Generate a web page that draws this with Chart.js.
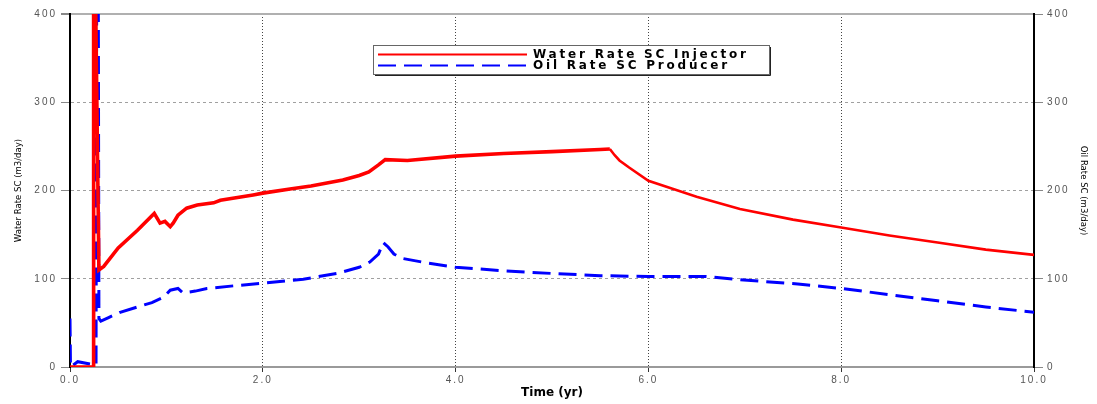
<!DOCTYPE html>
<html>
<head>
<meta charset="utf-8">
<script src="https://cdn.jsdelivr.net/npm/chart.js@4.4.1/dist/chart.umd.min.js"></script>
<style>
html, body { margin: 0; padding: 0; background: #fff; }
#chart-wrap { width: 1097px; height: 404px; }
</style>
</head>
<body>
<div id="chart-wrap"><canvas id="rate-chart"></canvas></div>
<script>
// water injection rate (m3/day) vs time (yr)
const waterTime = [0, 0.24, 0.245, 0.30, 0.35, 0.5, 0.7, 0.874, 0.934, 0.985, 1.04, 1.07, 1.12, 1.21, 1.32, 1.49, 1.56, 1.9, 2.0, 2.3, 2.5, 2.83, 3.0, 3.1, 3.2, 3.27, 3.5, 4.0, 4.5, 5.0, 5.5, 5.6, 5.65, 5.7, 5.8, 6.0, 6.25, 6.5, 6.95, 7.5, 8.0, 8.5, 9.0, 9.5, 10.0];
const waterRate = [0, 0, 600, 110, 114, 135, 155, 174, 163, 165, 159, 163, 172, 180, 183.5, 186, 189, 195, 197, 202, 205, 212, 217, 221, 229, 235, 234, 239, 242, 244, 246.5, 247, 240, 234, 226, 211, 202, 193, 179, 167, 158, 149, 141, 133, 127];

// oil production rate (m3/day) vs time (yr)
const oilTime = [0, 0.005, 0.08, 0.27, 0.285, 0.30, 0.32, 0.4, 0.52, 0.7, 0.85, 0.97, 1.04, 1.12, 1.17, 1.3, 1.42, 1.7, 2.0, 2.42, 2.77, 3.0, 3.11, 3.2, 3.25, 3.3, 3.36, 3.45, 3.7, 4.0, 4.5, 5.0, 5.5, 6.0, 6.6, 6.95, 7.55, 8.0, 8.5, 9.0, 9.5, 10.0];
const oilRate = [55, 0, 6, 2, 900, 55, 52, 56, 62, 68, 73, 79, 87, 89, 84, 86, 89, 92, 95, 99.5, 106, 113, 119, 128, 141, 136, 128, 123, 118, 113, 109, 106, 103.5, 102.6, 102.6, 99, 94, 89, 82, 75, 68, 62];

const timeTicks = [0, 2, 4, 6, 8, 10];
const rateTicks = [0, 100, 200, 300, 400];

const seriesNames = ["Water Rate SC Injector", "Oil Rate SC Producer"];

// injection is noisy up to shut-in, so that stretch is drawn heavier
const noisyUntil = 5.6;

function toPoints(xs, ys) {
    return xs.map(function (x, i) {
        return { x: x, y: ys[i] };
    });
}

// tick labels are drawn after the datasets so they can be letter-spaced
const spacedTicks = {
    id: "spacedTicks",
    afterDatasetsDraw: function (chart) {
        chart.ctx.letterSpacing = "2px";
    },
    afterDraw: function (chart) {
        chart.ctx.letterSpacing = "0px";
    },
};

// boxed legend inside the plot area
const boxLegend = {
    id: "boxLegend",
    afterDraw: function (chart) {
        const ctx = chart.ctx;
        const left = 373, top = 45, width = 396, height = 29;
        ctx.save();
        ctx.fillStyle = "#fff";
        ctx.fillRect(left, top, width, height);
        ctx.strokeStyle = "#666";
        ctx.lineWidth = 1;
        ctx.strokeRect(left + 0.5, top + 0.5, width, height);
        ctx.strokeStyle = "#222";
        ctx.beginPath();
        ctx.moveTo(left + width + 1.5, top + 2);
        ctx.lineTo(left + width + 1.5, top + height + 1.5);
        ctx.lineTo(left + 2, top + height + 1.5);
        ctx.stroke();

        chart.data.datasets.forEach(function (ds, i) {
            const y = top + 9.5 + i * 11;
            ctx.strokeStyle = ds.borderColor;
            ctx.lineWidth = 2;
            ctx.setLineDash(ds.borderDash || []);
            ctx.beginPath();
            ctx.moveTo(left + 5, y);
            ctx.lineTo(left + 154, y);
            ctx.stroke();
            ctx.setLineDash([]);
            ctx.fillStyle = "#000";
            ctx.font = "bold 12px 'DejaVu Sans', sans-serif";
            ctx.letterSpacing = "2.8px";
            ctx.textBaseline = "middle";
            ctx.fillText(ds.label, left + 160, y + 0.5);
        });
        ctx.restore();
    },
};

const tickFont = { family: "'Liberation Sans', Arial, sans-serif", size: 10 };
const sideTitleFont = { family: "'Liberation Sans Narrow', 'DejaVu Sans Condensed', 'Liberation Sans', Arial, sans-serif", size: 9.5, lineHeight: 1.2 };

new Chart(document.getElementById("rate-chart"), {
    type: "line",
    data: {
        datasets: [
            {
                label: seriesNames[0],
                data: toPoints(waterTime, waterRate),
                borderColor: "#ff0000",
                borderWidth: 3,
                segment: {
                    borderWidth: function (c) {
                        return c.p1.parsed.x <= noisyUntil ? 3.6 : 2.6;
                    },
                },
                pointRadius: 0,
                tension: 0,
                yAxisID: "y",
            },
            {
                label: seriesNames[1],
                data: toPoints(oilTime, oilRate),
                borderColor: "#0000ff",
                borderWidth: 3,
                borderDash: [18, 8],
                pointRadius: 0,
                tension: 0,
                yAxisID: "y1",
            },
        ],
    },
    options: {
        responsive: true,
        maintainAspectRatio: false,
        animation: false,
        devicePixelRatio: 1,
        layout: { padding: { top: 14, left: 0, right: 0, bottom: 0 } },
        plugins: {
            legend: { display: false },
            tooltip: { enabled: false },
        },
        scales: {
            x: {
                type: "linear",
                min: 0,
                max: 10,
                afterBuildTicks: function (scale) {
                    scale.ticks = timeTicks.map(function (v) { return { value: v }; });
                },
                afterFit: function (scale) { scale.height = 37; },
                ticks: {
                    z: 1,
                    font: tickFont,
                    color: "#555",
                    padding: 2,
                    maxRotation: 0,
                    autoSkip: false,
                    callback: function (v) { return Number(v).toFixed(1); },
                },
                grid: {
                    color: function (c) {
                        const v = c.tick && c.tick.value;
                        return v === 0 || v === 10 ? "rgba(0,0,0,0)" : "#444";
                    },
                    lineWidth: 1,
                    tickLength: 5,
                    tickColor: "#333",
                },
                border: { display: true, color: "#9a9a9a", width: 2, dash: [1, 2] },
                title: {
                    display: true,
                    text: "Time (yr)",
                    color: "#000",
                    font: { family: "'DejaVu Sans', sans-serif", size: 12, weight: "bold", lineHeight: 1.2 },
                    padding: { top: 0, bottom: 4 },
                },
            },
            y: {
                type: "linear",
                position: "left",
                min: 0,
                max: 400,
                afterBuildTicks: function (scale) {
                    scale.ticks = rateTicks.map(function (v) { return { value: v }; });
                },
                afterFit: function (scale) { scale.width = 70; },
                ticks: { z: 1, font: tickFont, color: "#555", padding: 4 },
                grid: {
                    color: function (c) {
                        const v = c.tick && c.tick.value;
                        if (v === 0) return "rgba(0,0,0,0)";
                        return v === 400 ? "#b0b0b0" : "#a0a0a0";
                    },
                    lineWidth: function (c) {
                        return c.tick && c.tick.value === 400 ? 2 : 1;
                    },
                    tickLength: 9,
                    tickColor: "#888",
                },
                border: {
                    display: true,
                    color: "#000",
                    width: 2,
                    dash: function (c) {
                        return c.tick && c.tick.value === 400 ? [] : [3, 3];
                    },
                },
                title: {
                    display: true,
                    text: "Water Rate SC (m3/day)",
                    color: "#000",
                    font: sideTitleFont,
                    padding: { top: 13, bottom: 0 },
                },
            },
            y1: {
                type: "linear",
                position: "right",
                min: 0,
                max: 400,
                afterBuildTicks: function (scale) {
                    scale.ticks = rateTicks.map(function (v) { return { value: v }; });
                },
                afterFit: function (scale) { scale.width = 63; },
                ticks: { z: 1, font: tickFont, color: "#555", padding: 4 },
                grid: { drawOnChartArea: false, tickLength: 9, tickColor: "#888" },
                border: { display: true, color: "#000", width: 2 },
                title: {
                    display: true,
                    text: "Oil Rate SC (m3/day)",
                    color: "#000",
                    font: sideTitleFont,
                    padding: { top: 8, bottom: 0 },
                },
            },
        },
    },
    plugins: [spacedTicks, boxLegend],
});
</script>
</body>
</html>
